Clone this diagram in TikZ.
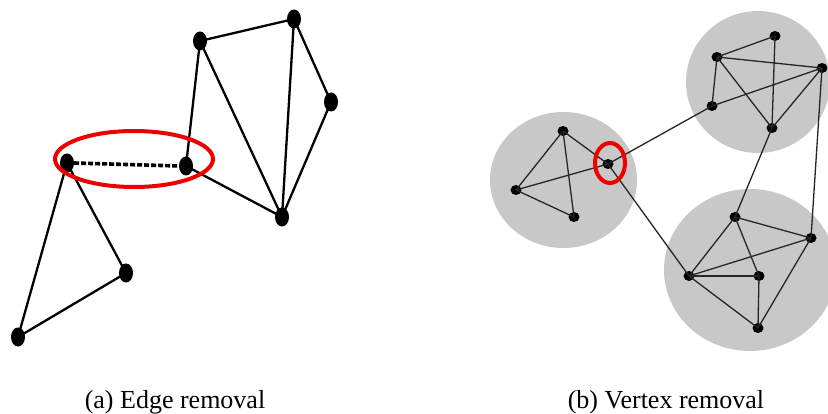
\documentclass[tikz,border=0pt]{standalone}
\usepackage{fontspec}
\setmainfont{Liberation Serif}
\usetikzlibrary{shapes.geometric}

\definecolor{clusterfill}{RGB}{200,200,200}
\definecolor{ringred}{RGB}{236,0,0}

\tikzset{
  bignode/.style={ellipse, fill=black, inner sep=0pt, minimum width=14pt, minimum height=19pt},
  smallnode/.style={ellipse, fill=black, inner sep=0pt, minimum width=11pt, minimum height=10pt},
  bigedge/.style={line width=2.3pt, black},
  cutedge/.style={line width=3.6pt, black, dash pattern=on 5pt off 2pt},
  smalledge/.style={line width=1.3pt, black!85},
  ring/.style={draw=ringred, line width=4pt},
  cluster/.style={fill=clusterfill},
  caption/.style={font=\fontsize{26}{30}\selectfont, anchor=base, inner sep=0pt}
}

\begin{document}
\begin{tikzpicture}[x=1pt, y=-1pt]
  \useasboundingbox (0,0) rectangle (828,414);
  \clip (0,0) rectangle (828,414);

  % ---- left graph: edge removal ----
  \node[bignode] (A) at (200,41) {};
  \node[bignode] (B) at (294,19) {};
  \node[bignode] (C) at (331,102) {};
  \node[bignode] (D) at (282,217) {};
  \node[bignode] (E) at (186,166) {};
  \node[bignode] (F) at (67,163) {};
  \node[bignode] (G) at (126,273) {};
  \node[bignode] (H) at (18,337) {};

  \draw[bigedge] (A.center) -- (B.center);
  \draw[bigedge] (B.center) -- (C.center);
  \draw[bigedge] (C.center) -- (D.center);
  \draw[bigedge] (B.center) -- (D.center);
  \draw[bigedge] (A.center) -- (D.center);
  \draw[bigedge] (A.center) -- (E.center);
  \draw[bigedge] (E.center) -- (D.center);
  \draw[bigedge] (F.center) -- (G.center);
  \draw[bigedge] (F.center) -- (H.center);
  \draw[bigedge] (G.center) -- (H.center);
  \draw[cutedge] (F.east) -- (E.west);

  \draw[ring] (134,159) ellipse [x radius=79pt, y radius=28pt];

  % ---- right graph: vertex removal ----
  \fill[cluster] (758,82) ellipse [x radius=72pt, y radius=71pt];
  \fill[cluster] (563.5,180) ellipse [x radius=73.5pt, y radius=68pt];
  \fill[cluster] (750,270) ellipse [x radius=86pt, y radius=81pt];

  % upper-right cluster
  \node[smallnode] (n1) at (775,36) {};
  \node[smallnode] (n2) at (717,57) {};
  \node[smallnode] (n3) at (822,68) {};
  \node[smallnode] (n4) at (712,106) {};
  \node[smallnode] (n5) at (772,128) {};
  % left cluster
  \node[smallnode] (m1) at (563,131) {};
  \node[smallnode] (hub) at (608,164) {};
  \node[smallnode] (m2) at (516,190) {};
  \node[smallnode] (m3) at (574,217) {};
  % lower-right cluster
  \node[smallnode] (p1) at (735,217) {};
  \node[smallnode] (p2) at (811,238) {};
  \node[smallnode] (p3) at (689,276) {};
  \node[smallnode] (p4) at (759,276) {};
  \node[smallnode] (p5) at (758,328) {};

  \draw[smalledge] (n2.center) -- (n1.center);
  \draw[smalledge] (n2.center) -- (n3.center);
  \draw[smalledge] (n2.center) -- (n4.center);
  \draw[smalledge] (n2.center) -- (n5.center);
  \draw[smalledge] (n1.center) -- (n5.center);
  \draw[smalledge] (n4.center) -- (n3.center);
  \draw[smalledge] (n3.center) -- (n5.center);

  \draw[smalledge] (m1.center) -- (m2.center);
  \draw[smalledge] (m1.center) -- (m3.center);
  \draw[smalledge] (m1.center) -- (hub.center);
  \draw[smalledge] (m2.center) -- (hub.center);
  \draw[smalledge] (m2.center) -- (m3.center);

  \draw[smalledge] (p1.center) -- (p2.center);
  \draw[smalledge] (p1.center) -- (p3.center);
  \draw[smalledge] (p1.center) -- (p4.center);
  \draw[smalledge] (p3.center) -- (p2.center);
  \draw[smalledge] (p3.center) -- (p4.center);
  \draw[smalledge] (p3.center) -- (p5.center);
  \draw[smalledge] (p4.center) -- (p5.center);
  \draw[smalledge] (p2.center) -- (p5.center);

  % links between clusters
  \draw[smalledge] (hub.center) -- (n4.center);
  \draw[smalledge] (hub.center) -- (p3.center);
  \draw[smalledge] (n5.center) -- (p1.center);
  \draw[smalledge] (n3.center) -- (p2.center);

  \draw[ring] (610,163) ellipse [x radius=15pt, y radius=20pt];

  % ---- captions ----
  \node[caption] (capa) at (175,408) {(a) Edge removal};
  \node[caption] (capb) at (666,408) {(b) Vertex removal};
\end{tikzpicture}
\end{document}
